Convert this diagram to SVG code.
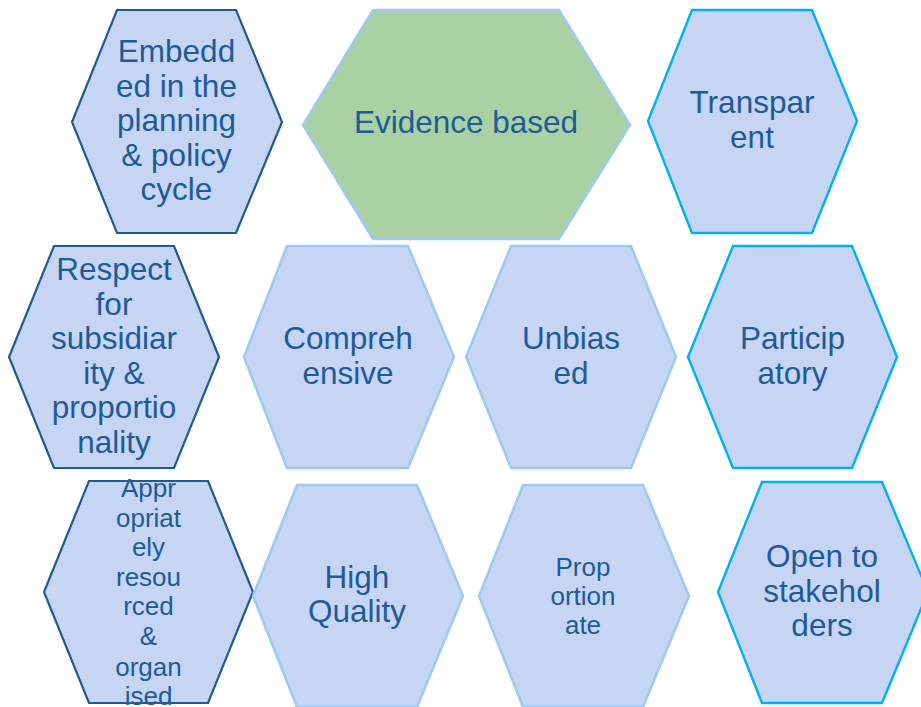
<svg xmlns="http://www.w3.org/2000/svg" width="921" height="707" viewBox="0 0 921 707">
<style>
.hex{fill:#C5D5F3;stroke-linejoin:miter}
.dark{stroke:#1F5A96;stroke-width:2.2}
.light{stroke:#9DC9F3;stroke-width:2.5}
.cyan{stroke:#00B0F0;stroke-width:2.4}
.green{fill:#AAD1A3}
text{font-family:"Liberation Sans",Arial,sans-serif;font-size:31.5px;fill:#1F5A99;text-anchor:middle}
.sm{font-size:26px}
</style>
<rect width="921" height="707" fill="#FFFFFF"/>
<g id="connectors"></g>
<g id="n-embedded">
<polygon class="hex dark" points="117,10 236,10 282,122 236,233 117,233 72,122"/>
<text x="176.5" y="62">Embedd</text>
<text x="176.5" y="96.5">ed in the</text>
<text x="176.5" y="131">planning</text>
<text x="176.5" y="165.5">&amp; policy</text>
<text x="176.5" y="200">cycle</text>
</g>
<g id="n-evidence">
<polygon class="hex green light" points="373,10 559,10 630,125 559,239 373,239 303,125"/>
<text x="466" y="133">Evidence based</text>
</g>
<g id="n-transparent">
<polygon class="hex cyan" points="692,10 812,10 857,121 812,233 692,233 648,121"/>
<text x="752" y="113">Transpar</text>
<text x="752" y="147.5">ent</text>
</g>
<g id="n-respect">
<polygon class="hex dark" points="54,246 174,246 219,357 174,468 54,468 9,357"/>
<text x="114" y="280">Respect</text>
<text x="114" y="314.5">for</text>
<text x="114" y="349">subsidiar</text>
<text x="114" y="383.5">ity &amp;</text>
<text x="114" y="418">proportio</text>
<text x="114" y="452.5">nality</text>
</g>
<g id="n-comprehensive">
<polygon class="hex light" points="287,246 408,246 454,357 408,468 287,468 244,357"/>
<text x="348" y="349">Compreh</text>
<text x="348" y="383.5">ensive</text>
</g>
<g id="n-unbiased">
<polygon class="hex light" points="511,246 631,246 676,357 631,468 511,468 466,357"/>
<text x="571" y="349">Unbias</text>
<text x="571" y="383.5">ed</text>
</g>
<g id="n-participatory">
<polygon class="hex cyan" points="733,246 852,246 897,357 852,468 733,468 688,357"/>
<text x="792.5" y="349">Particip</text>
<text x="792.5" y="383.5">atory</text>
</g>
<g id="n-appropriately">
<polygon class="hex dark" points="89,481 208,481 253,592 208,703 89,703 44,592"/>
<text class="sm" x="148.5" y="497">Appr</text>
<text class="sm" x="148.5" y="527">opriat</text>
<text class="sm" x="148.5" y="556">ely</text>
<text class="sm" x="148.5" y="585.5">resou</text>
<text class="sm" x="148.5" y="615">rced</text>
<text class="sm" x="148.5" y="645">&amp;</text>
<text class="sm" x="148.5" y="676">organ</text>
<text class="sm" x="148.5" y="705">ised</text>
</g>
<g id="n-highquality">
<polygon class="hex light" points="297,485 417,485 463,596 417,707 297,707 253,596"/>
<text x="357" y="587.5">High</text>
<text x="357" y="622">Quality</text>
</g>
<g id="n-proportionate">
<polygon class="hex light" points="523,485 643,485 689,596 643,707 523,707 479,596"/>
<text class="sm" x="583" y="576">Prop</text>
<text class="sm" x="583" y="605">ortion</text>
<text class="sm" x="583" y="634">ate</text>
</g>
<g id="n-open">
<polygon class="hex cyan" points="762,482 882,482 928,592 882,703 762,703 718,592"/>
<text x="822" y="567">Open to</text>
<text x="822" y="601.5">stakehol</text>
<text x="822" y="636">ders</text>
</g>
</svg>
